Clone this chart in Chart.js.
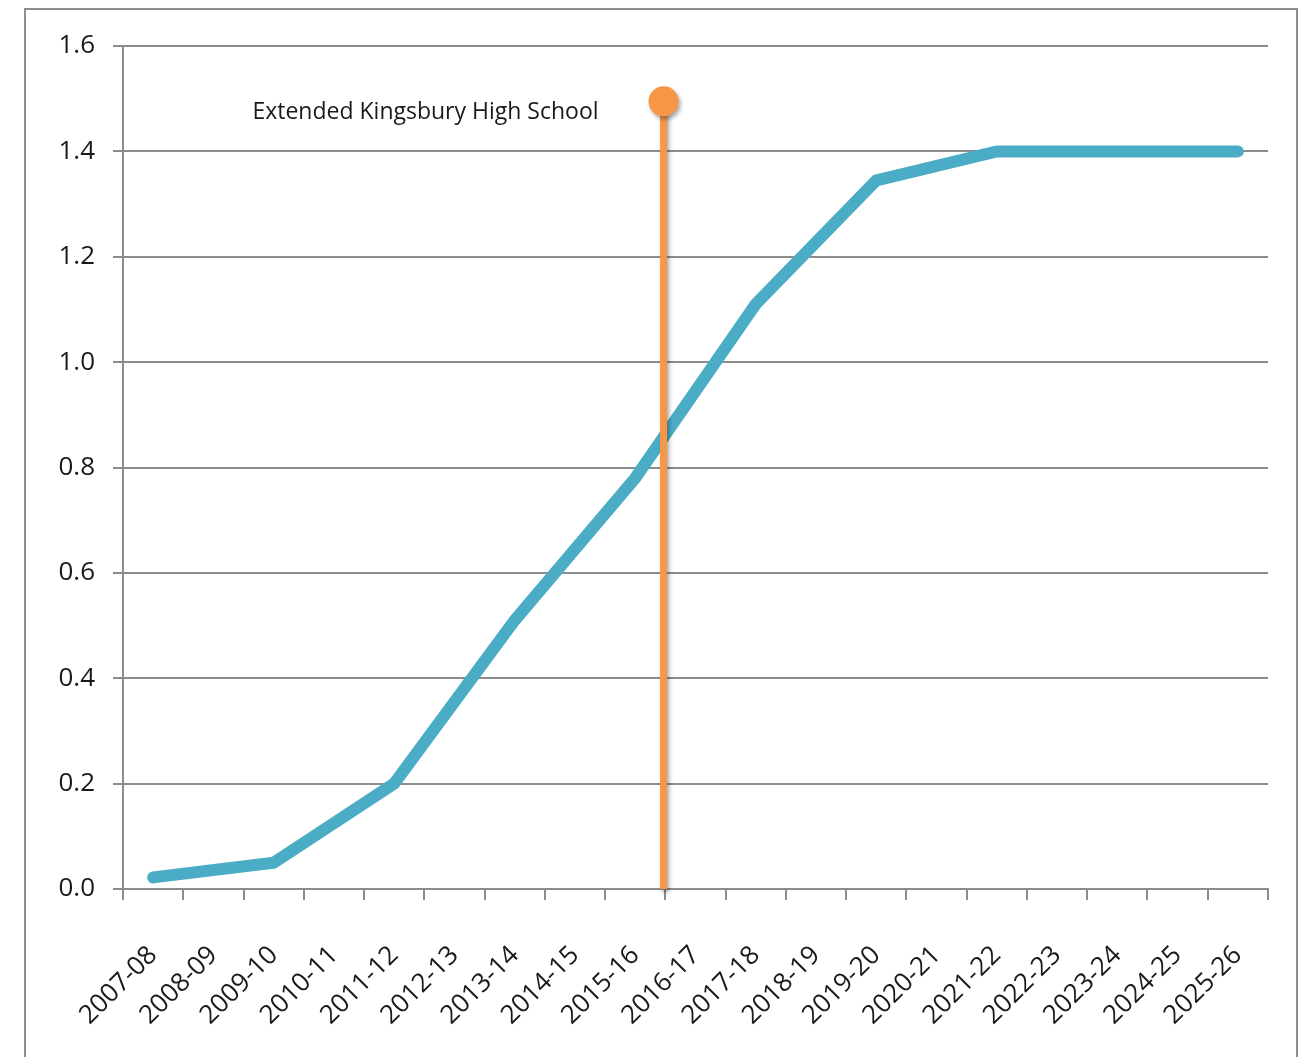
<!DOCTYPE html>
<html>
<head>
<meta charset="utf-8">
<script src="https://cdn.jsdelivr.net/npm/chart.js@4/dist/chart.umd.min.js"></script>
<style>
  html, body { margin: 0; padding: 0; background: #ffffff; overflow: hidden; }
  #frame { position: absolute; left: 24px; top: 8px; width: 1274px; height: 1100px; border: 2px solid #8e8e8e; box-sizing: border-box; }
  #wrap { position: absolute; left: 0; top: 0; width: 1304px; height: 1057px; }
</style>
</head>
<body>
<div id="frame"></div>
<div id="wrap"><canvas id="c" width="1304" height="1057"></canvas></div>
<script>
const categories = ["2007-08","2008-09","2009-10","2010-11","2011-12","2012-13","2013-14","2014-15","2015-16","2016-17","2017-18","2018-19","2019-20","2020-21","2021-22","2022-23","2023-24","2024-25","2025-26"];
const seriesValues = [0.022, null, 0.05, null, 0.2, null, 0.51, null, 0.78, null, 1.11, null, 1.345, null, 1.40, null, 1.40, null, 1.40];
const yTicks = [0, 0.2, 0.4, 0.6, 0.8, 1.0, 1.2, 1.4, 1.6];
const markerPosition = 8.47;      // between 2015-16 and 2016-17
const markerTop = 1.495;
const markerPoints = [{x: markerPosition, y: 0}, {x: markerPosition, y: markerTop}];
const annotationLabel = "Extended Kingsbury High School";

const GRID = '#8c8c8c';
const TEXT = '#1a1a1a';
const FONT = "'Open Sans', 'DejaVu Sans', sans-serif";

const shadowPlugin = {
  id: 'markerShadow',
  beforeDatasetDraw(chart, args) {
    if (args.index === 1) {
      const ctx = chart.ctx;
      ctx.save();
      ctx.shadowColor = 'rgba(0,0,0,0.35)';
      ctx.shadowBlur = 4;
      ctx.shadowOffsetX = 2;
      ctx.shadowOffsetY = 3;
    }
  },
  afterDatasetDraw(chart, args) {
    if (args.index === 1) chart.ctx.restore();
  }
};

const labelPlugin = {
  id: 'annotationText',
  afterDatasetsDraw(chart) {
    const ctx = chart.ctx;
    const x = chart.scales.x2.getPixelForValue(markerPosition) - 65;
    const y = chart.scales.y.getPixelForValue(markerTop) + 11;
    ctx.save();
    ctx.font = "23px " + FONT;
    ctx.fillStyle = TEXT;
    ctx.textAlign = 'right';
    ctx.textBaseline = 'middle';
    ctx.fillText(annotationLabel, x, y);
    ctx.restore();
  }
};

new Chart(document.getElementById('c'), {
  type: 'line',
  data: {
    labels: categories,
    datasets: [
      {
        label: 'Series',
        data: seriesValues,
        xAxisID: 'x',
        borderColor: '#4bacc6',
        backgroundColor: '#4bacc6',
        borderWidth: 12,
        borderCapStyle: 'round',
        borderJoinStyle: 'miter',
        pointRadius: 0,
        spanGaps: true,
        tension: 0,
        order: 1
      },
      {
        label: 'Marker',
        data: markerPoints,
        xAxisID: 'x2',
        borderColor: '#f79646',
        backgroundColor: '#f79646',
        borderWidth: 7,
        pointRadius: [0, 15],
        pointBorderWidth: 0,
        pointBackgroundColor: '#f79646',
        clip: false,
        order: 0
      }
    ]
  },
  options: {
    responsive: false,
    animation: false,
    events: [],
    layout: { padding: { top: 46, right: 36, left: 0, bottom: 0 } },
    plugins: { legend: { display: false }, tooltip: { enabled: false } },
    scales: {
      x: {
        type: 'category',
        position: 'bottom',
        offset: true,
        grid: { offset: true, drawOnChartArea: false, drawTicks: true, tickLength: 11, color: GRID, lineWidth: 2 },
        border: { display: true, color: GRID, width: 2 },
        ticks: { autoSkip: false, minRotation: 45, maxRotation: 45, padding: 40, color: TEXT, font: { family: FONT, size: 26 } },
        afterFit: (s) => { s.height = 168; }
      },
      x2: {
        type: 'linear',
        position: 'bottom',
        display: false,
        min: -0.5,
        max: categories.length - 0.5
      },
      y: {
        min: yTicks[0],
        max: yTicks[yTicks.length - 1],
        afterBuildTicks: (s) => { s.ticks = yTicks.map(v => ({ value: v })); },
        ticks: { padding: 18, color: TEXT, font: { family: FONT, size: 26 }, callback: (v) => Number(v).toFixed(1) },
        grid: { color: GRID, lineWidth: 2, tickLength: 10 },
        border: { display: true, color: GRID, width: 2 },
        afterFit: (s) => { s.width = 123; }
      }
    }
  },
  plugins: [shadowPlugin, labelPlugin]
});
</script>
</body>
</html>
